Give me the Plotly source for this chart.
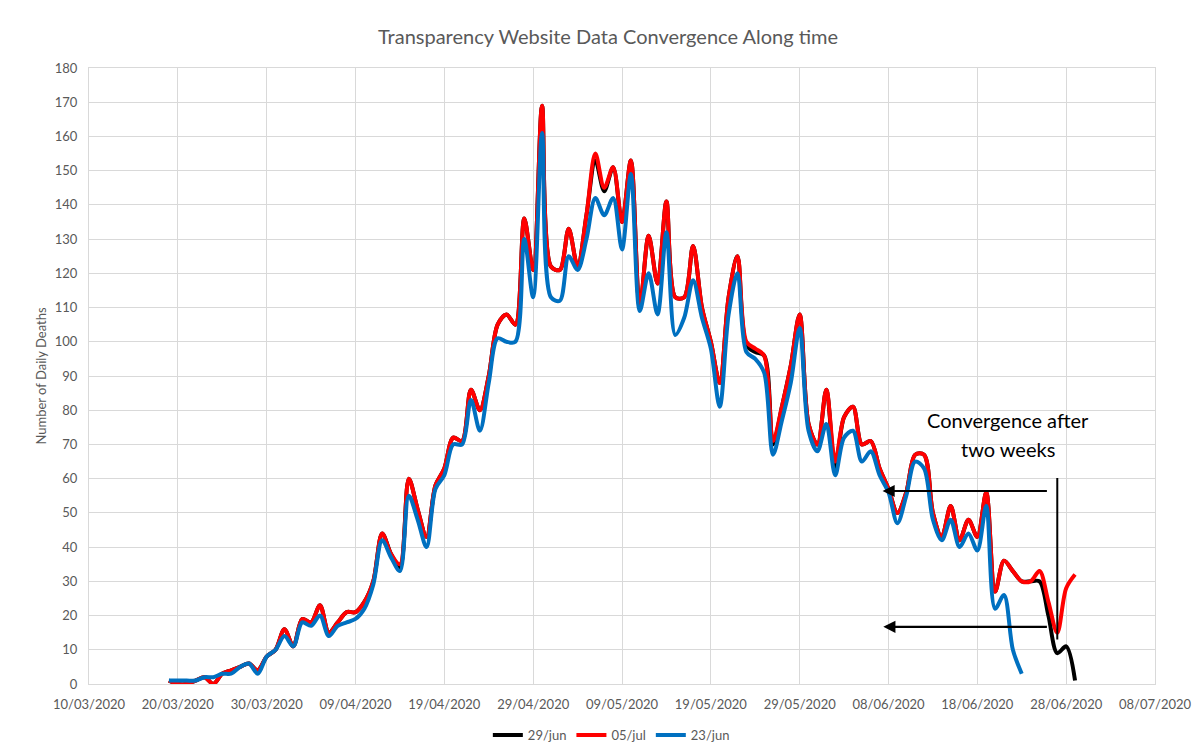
import pandas as pd
import plotly.graph_objects as go

# daily deaths as published on the transparency website, read at three dates
START = "2020-03-19"

deaths_29jun = [
    1, 0, 0, 1, 2, 0, 3, 4, 5, 6, 4, 8, 10,
    16, 11, 19, 18, 23, 15, 18, 21, 21, 24, 30, 44, 38, 34, 60, 51, 43,
    58, 63, 72, 71, 86, 80, 90, 105, 108, 105, 136, 121, 169,
    122, 121, 133, 122, 137, 153, 144, 151, 135, 153, 110, 131, 117, 141, 113,
    113, 128, 110, 100, 88, 113, 125, 99, 97, 96, 70, 81, 93, 108, 76, 70,
    86, 63, 78, 81, 70, 71, 63, 57, 50, 56, 67, 67, 50, 43, 52, 42, 48, 43,
    56, 27, 36, 33, 30, 30, 30, 20, 9, 11, 1,
]
deaths_05jul = [
    1, 0, 0, 1, 2, 0, 3, 4, 5, 6, 4, 8, 10,
    16, 11, 19, 18, 23, 15, 18, 21, 21, 24, 30, 44, 38, 35, 60, 51, 43,
    58, 63, 72, 71, 86, 80, 90, 105, 108, 105, 136, 121, 169,
    122, 121, 133, 122, 137, 155, 145, 151, 135, 153, 110, 131, 117, 141, 113,
    113, 128, 110, 100, 88, 113, 125, 100, 98, 96, 71, 81, 93, 108, 76, 70,
    86, 65, 78, 81, 70, 71, 63, 57, 50, 56, 67, 67, 50, 43, 52, 42, 48, 43,
    56, 27, 36, 33, 30, 30, 33, 24, 15, 28, 32,
]
deaths_23jun = [
    1, 1, 1, 1, 2, 2, 3, 3, 5, 6, 3, 8, 10,
    14, 11, 18, 17, 20, 14, 17, 18, 19, 22, 29, 42, 37, 33, 55, 48, 40,
    57, 61, 70, 70, 83, 74, 88, 101, 100, 100, 130, 113, 161,
    113, 112, 125, 121, 130, 142, 137, 142, 127, 149, 109, 120, 108, 132, 102,
    107, 118, 107, 98, 81, 108, 120, 97, 95, 91, 67, 77, 88, 104, 74, 68,
    76, 61, 72, 74, 65, 68, 61, 56, 47, 55, 65, 63, 48, 42, 48, 40, 44, 39,
    52, 22, 26, 10, 3,
]

series = [
    ("29/jun", deaths_29jun, "#000000"),
    ("05/jul", deaths_05jul, "#ff0000"),
    ("23/jun", deaths_23jun, "#0070c0"),
]

GRID = "#d9d9d9"
TEXT = "#595959"
FONT = "Lato, 'Open Sans', sans-serif"

# the page body adds an 8px margin, so the figure is drawn 8px smaller
W, H = 1195, 743

fig = go.Figure()
for name, values, color in series:
    dates = pd.date_range(START, periods=len(values), freq="D")
    fig.add_trace(
        go.Scatter(
            x=dates,
            y=values,
            name=name,
            mode="lines",
            line=dict(color=color, width=4, shape="spline", smoothing=0.9),
        )
    )

# "convergence" callout: two arrows pointing back in time and a vertical bar
arrow_style = dict(
    showarrow=True, text="", axref="x", ayref="y",
    arrowhead=2, arrowsize=1.1, arrowwidth=2.2, arrowcolor="black",
)
fig.add_annotation(x="2020-06-07 08:00", y=56.4, ax="2020-06-26 00:00", ay=56.4, **arrow_style)
fig.add_annotation(x="2020-06-07 10:00", y=16.7, ax="2020-06-26 00:00", ay=16.7, **arrow_style)
fig.add_shape(
    type="line", xref="x", yref="y",
    x0="2020-06-27 00:00", x1="2020-06-27 00:00", y0=60.2, y1=13,
    line=dict(color="black", width=2),
)
for text, y in [("Convergence after", 77.1), ("two weeks", 68.6)]:
    fig.add_annotation(
        x="2020-06-21 12:00", y=y, text=text, showarrow=False,
        font=dict(family=FONT, size=20, color="#000000"),
    )

fig.update_layout(
    width=W,
    height=H,
    paper_bgcolor="white",
    plot_bgcolor="white",
    margin=dict(l=81, r=48, t=60, b=67, autoexpand=False),
    font=dict(family=FONT, color=TEXT, size=13),
    title=dict(
        text="Transparency Website Data Convergence Along time",
        x=(608 - 8) / W, xanchor="center", y=1 - 29 / H, yanchor="middle",
        yref="container",
        font=dict(family=FONT, size=20, color=TEXT),
    ),
    xaxis=dict(
        range=["2020-03-10", "2020-07-08"],
        tick0="2020-03-10",
        dtick=10 * 86400000,
        tickformat="%d/%m/%Y",
        showgrid=True,
        gridcolor=GRID,
        gridwidth=1,
        showline=True,
        linecolor=GRID,
        mirror=True,
        zeroline=False,
        ticks="",
        ticklabelstandoff=8,
        tickfont=dict(size=13, color=TEXT),
    ),
    yaxis=dict(
        range=[0, 180],
        dtick=10,
        showgrid=True,
        gridcolor=GRID,
        gridwidth=1,
        showline=True,
        linecolor=GRID,
        mirror=True,
        zeroline=False,
        ticks="",
        ticklabelstandoff=8,
        tickfont=dict(size=13, color=TEXT),
        title=dict(text="Number of Daily Deaths", standoff=5, font=dict(size=13, color=TEXT)),
    ),
    legend=dict(
        orientation="h",
        x=0.49, xanchor="center",
        y=-0.083, yanchor="middle",
        font=dict(size=13, color=TEXT),
        itemwidth=30,
    ),
    showlegend=True,
)

fig.write_html("out.html")
